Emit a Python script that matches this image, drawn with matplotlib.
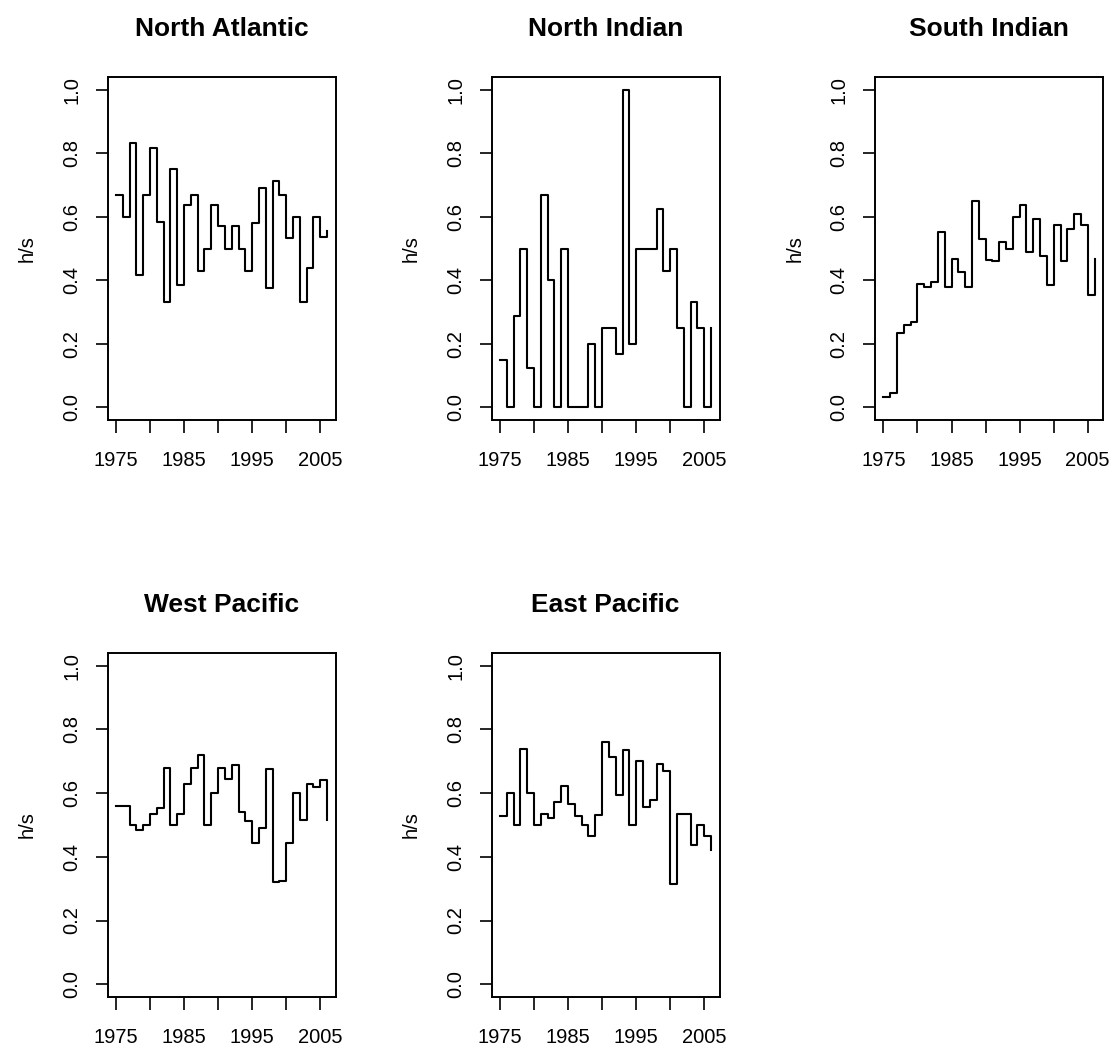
import matplotlib
matplotlib.use("Agg")
import matplotlib.pyplot as plt
import numpy as np

plt.rcParams["font.family"] = ["Liberation Sans", "DejaVu Sans"]

years = np.arange(1975, 2007)

north_atlantic = [0.667, 0.600, 0.833, 0.417, 0.667, 0.818, 0.583, 0.333,
                  0.750, 0.385, 0.636, 0.667, 0.429, 0.500, 0.636, 0.571,
                  0.500, 0.571, 0.500, 0.429, 0.579, 0.692, 0.375, 0.714,
                  0.667, 0.533, 0.600, 0.333, 0.438, 0.600, 0.535, 0.556]
north_indian = [0.150, 0.0, 0.286, 0.500, 0.125, 0.0, 0.667, 0.400,
                0.0, 0.500, 0.0, 0.0, 0.0, 0.200, 0.0, 0.250,
                0.250, 0.167, 1.000, 0.200, 0.500, 0.500, 0.500, 0.625,
                0.429, 0.500, 0.250, 0.0, 0.333, 0.250, 0.0, 0.250]
south_indian = [0.031, 0.044, 0.234, 0.259, 0.270, 0.387, 0.379, 0.395,
                0.552, 0.379, 0.467, 0.426, 0.379, 0.650, 0.531, 0.465,
                0.461, 0.522, 0.500, 0.600, 0.637, 0.488, 0.594, 0.475,
                0.384, 0.573, 0.460, 0.560, 0.609, 0.573, 0.353, 0.468]
west_pacific = [0.561, 0.561, 0.501, 0.484, 0.501, 0.536, 0.552, 0.679,
                0.501, 0.535, 0.630, 0.679, 0.720, 0.501, 0.600, 0.678,
                0.645, 0.688, 0.542, 0.513, 0.442, 0.490, 0.677, 0.322,
                0.325, 0.442, 0.600, 0.517, 0.630, 0.618, 0.640, 0.517]
east_pacific = [0.529, 0.600, 0.501, 0.738, 0.600, 0.501, 0.535, 0.521,
                0.572, 0.621, 0.567, 0.529, 0.501, 0.465, 0.530, 0.762,
                0.715, 0.593, 0.734, 0.501, 0.700, 0.555, 0.580, 0.693,
                0.668, 0.316, 0.535, 0.535, 0.437, 0.501, 0.466, 0.422]

basins = ["North Atlantic", "North Indian", "South Indian",
          "West Pacific", "East Pacific"]
series = [north_atlantic, north_indian, south_indian, west_pacific, east_pacific]

W, H = 1113, 1049
fig = plt.figure(figsize=(W / 100, H / 100), dpi=100)

lefts = [107.5, 491.5, 875.0]
width = 228.0
rows = [(77.0, 420.0), (653.0, 997.0)]

for i, (name, vals) in enumerate(zip(basins, series)):
    r, c = divmod(i, 3)
    top, bottom = rows[r]
    ax = fig.add_axes([lefts[c] / W, 1 - bottom / H, width / W, (bottom - top) / H])
    ax.step(years, vals, where="post", color="black", lw=1.5)
    ax.set_xlim(1973.76, 2007.24)
    ax.set_ylim(-0.04, 1.04)
    ax.set_xticks(np.arange(1975, 2006, 5))
    ax.set_xticklabels(["1975", "", "1985", "", "1995", "", "2005"])
    ax.set_yticks(np.arange(0, 1.01, 0.2))
    ax.set_yticklabels([f"{v:.1f}" for v in np.arange(0, 1.01, 0.2)],
                       rotation=90, va="center")
    ax.tick_params(direction="out", length=9, width=1.2, labelsize=14.5,
                   colors="black")
    ax.tick_params(axis="x", pad=13)
    ax.tick_params(axis="y", pad=10)
    for sp in ax.spines.values():
        sp.set_linewidth(1.4)
    h_px = bottom - top
    ax.text(0.5, 1 + 48 / h_px, name, transform=ax.transAxes, ha="center",
            va="center", fontsize=19, fontweight="bold")
    ax.text(-80 / width, 0.5, "h/s", transform=ax.transAxes, rotation=90,
            ha="center", va="center", fontsize=14.5)

fig.savefig("out.png", dpi=100)
